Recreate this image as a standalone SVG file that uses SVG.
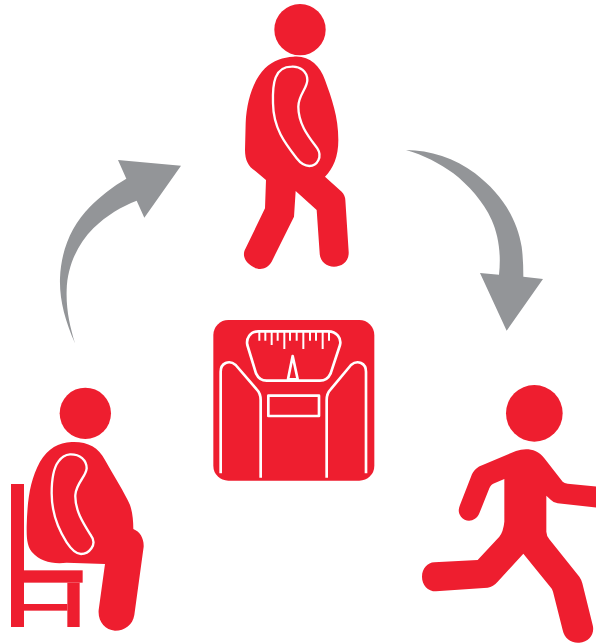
<svg xmlns="http://www.w3.org/2000/svg" width="596" height="643" viewBox="0 0 596 643">
<style>
.r{fill:#EE1E2F}
.a{fill:#939598}
.w{fill:none;stroke:#fff;stroke-width:8;stroke-linejoin:round}
.t{fill:none;stroke:#fff;stroke-width:6}
.o{fill:none;stroke:#fff;stroke-width:7}
</style>
<rect width="596" height="643" fill="#fff"/>
<g id="connectors">
<path class="a" transform="translate(50 150) scale(.33333)" d="M75 580 C45 510 28 450 30 385 C33 300 65 225 120 170 C150 140 190 108 229 86 L204 30 L393 47 L283 203 L260 152 C215 170 170 195 130 235 C85 280 52 345 50 420 C48 480 60 530 75 580Z"/>
<path class="a" transform="translate(400 140) scale(.33333)" d="M18 30 C90 30 165 55 225 100 C300 158 350 230 365 320 C369 350 370 380 370 410 L429 417 L320 572 L240 399 L297 404 C304 340 295 285 275 240 C250 185 205 135 160 100 C120 70 70 45 18 30Z"/>
</g>
<g id="walking-person" transform="translate(230 0) scale(.33333)">
<circle class="r" cx="210" cy="89" r="77"/>
<path class="r" d="M190 170 C235 165 270 195 285 240 C305 295 325 350 325 420 C325 470 310 505 285 530 L335 575 Q345 585 346 600 L356 755 C358 785 335 800 312 800 C290 800 270 785 269 760 L260 630 L197 573 L192 650 L125 785 C110 810 85 812 65 798 C45 785 35 765 47 745 L105 625 L108 540 L75 512 C55 500 45 480 45 450 L47 370 C50 300 70 240 105 205 C130 180 160 172 190 170Z"/>
<path class="o" d="M185 200 C210 198 232 215 232 240 C232 265 205 285 205 320 C205 375 240 415 262 445 C278 470 262 498 238 498 C222 498 210 488 200 475 C165 430 130 385 129 310 C128 280 130 250 137 232 C145 212 160 200 185 200Z"/>
</g>
<g id="sitting-person" transform="translate(0 380) scale(.33333)">
<rect class="r" x="33" y="312" width="39" height="429"/>
<rect class="r" x="72" y="571" width="176" height="37"/>
<rect class="r" x="202" y="608" width="37" height="133"/>
<rect class="r" x="72" y="672" width="130" height="20"/>
<circle class="r" cx="256" cy="100" r="77"/>
<path class="r" d="M215 186 C260 184 295 200 315 240 C340 285 375 340 390 375 C397 395 400 420 400 447 C420 455 432 475 431 500 L403 705 C398 735 375 752 345 752 C315 750 293 725 296 690 L315 552 L200 548 C160 553 120 545 95 515 C80 495 80 470 80 440 C82 360 90 300 120 245 C145 205 175 188 215 186Z"/>
<path class="o" d="M210 223 C240 222 260 240 260 265 C258 290 228 310 226 345 C224 390 250 430 272 465 C295 495 265 522 243 522 C225 522 212 505 200 487 C170 440 155 395 155 340 C155 300 160 265 175 245 C185 230 195 224 210 223Z"/>
</g>
<g id="running-person" transform="translate(416 380) scale(.33333)">
<circle class="r" cx="355" cy="100" r="85"/>
<path class="r" d="M330 208 C350 208 370 215 385 235 L440 305 Q445 310 455 311 L545 320 L545 383 L425 370 Q412 368 405 360 L391 347 L391 455 Q392 470 400 478 L490 590 Q497 600 499 610 L530 735 C537 762 520 785 490 788 C465 790 445 775 440 750 L411 635 Q408 625 400 617 L322 521 L245 605 Q232 620 215 623 L60 634 C35 634 18 615 18 590 C18 565 35 548 55 547 L185 540 L250 470 Q262 455 265 425 L265 297 L235 310 Q225 313 220 325 L190 400 C180 425 150 430 135 410 C125 397 128 385 132 375 L165 290 C172 270 185 260 200 255 L300 213 Q315 208 330 208Z"/>
</g>
<g id="scale" transform="translate(200 310) scale(.33333)">
<rect class="r" x="40" y="30" width="483" height="482" rx="45"/>
<path class="w" d="M175 64 L385 64 C410 64 425 85 420 105 L392 190 C385 205 375 212 360 212 L200 212 C185 212 175 205 168 190 L142 105 C138 85 150 64 175 64Z"/>
<path class="t" d="M178 66V92M196 66V92M215 66V105M233 66V92M253 66V117M270 66V92M290 66V92M310 66V117M330 66V92M348 66V92M368 66V117M387 66V92"/>
<path class="w" d="M278 138 L264 208 L293 208Z"/>
<path class="w" d="M62 490 L62 185 C62 160 87 148 107 165 L170 238 Q182 250 182 270 L182 503"/>
<path class="w" d="M498 490 L498 185 C498 160 473 148 453 165 L392 238 Q380 250 380 270 L380 503"/>
<rect class="w" x="205" y="257" width="152" height="61"/>
</g>
</svg>
